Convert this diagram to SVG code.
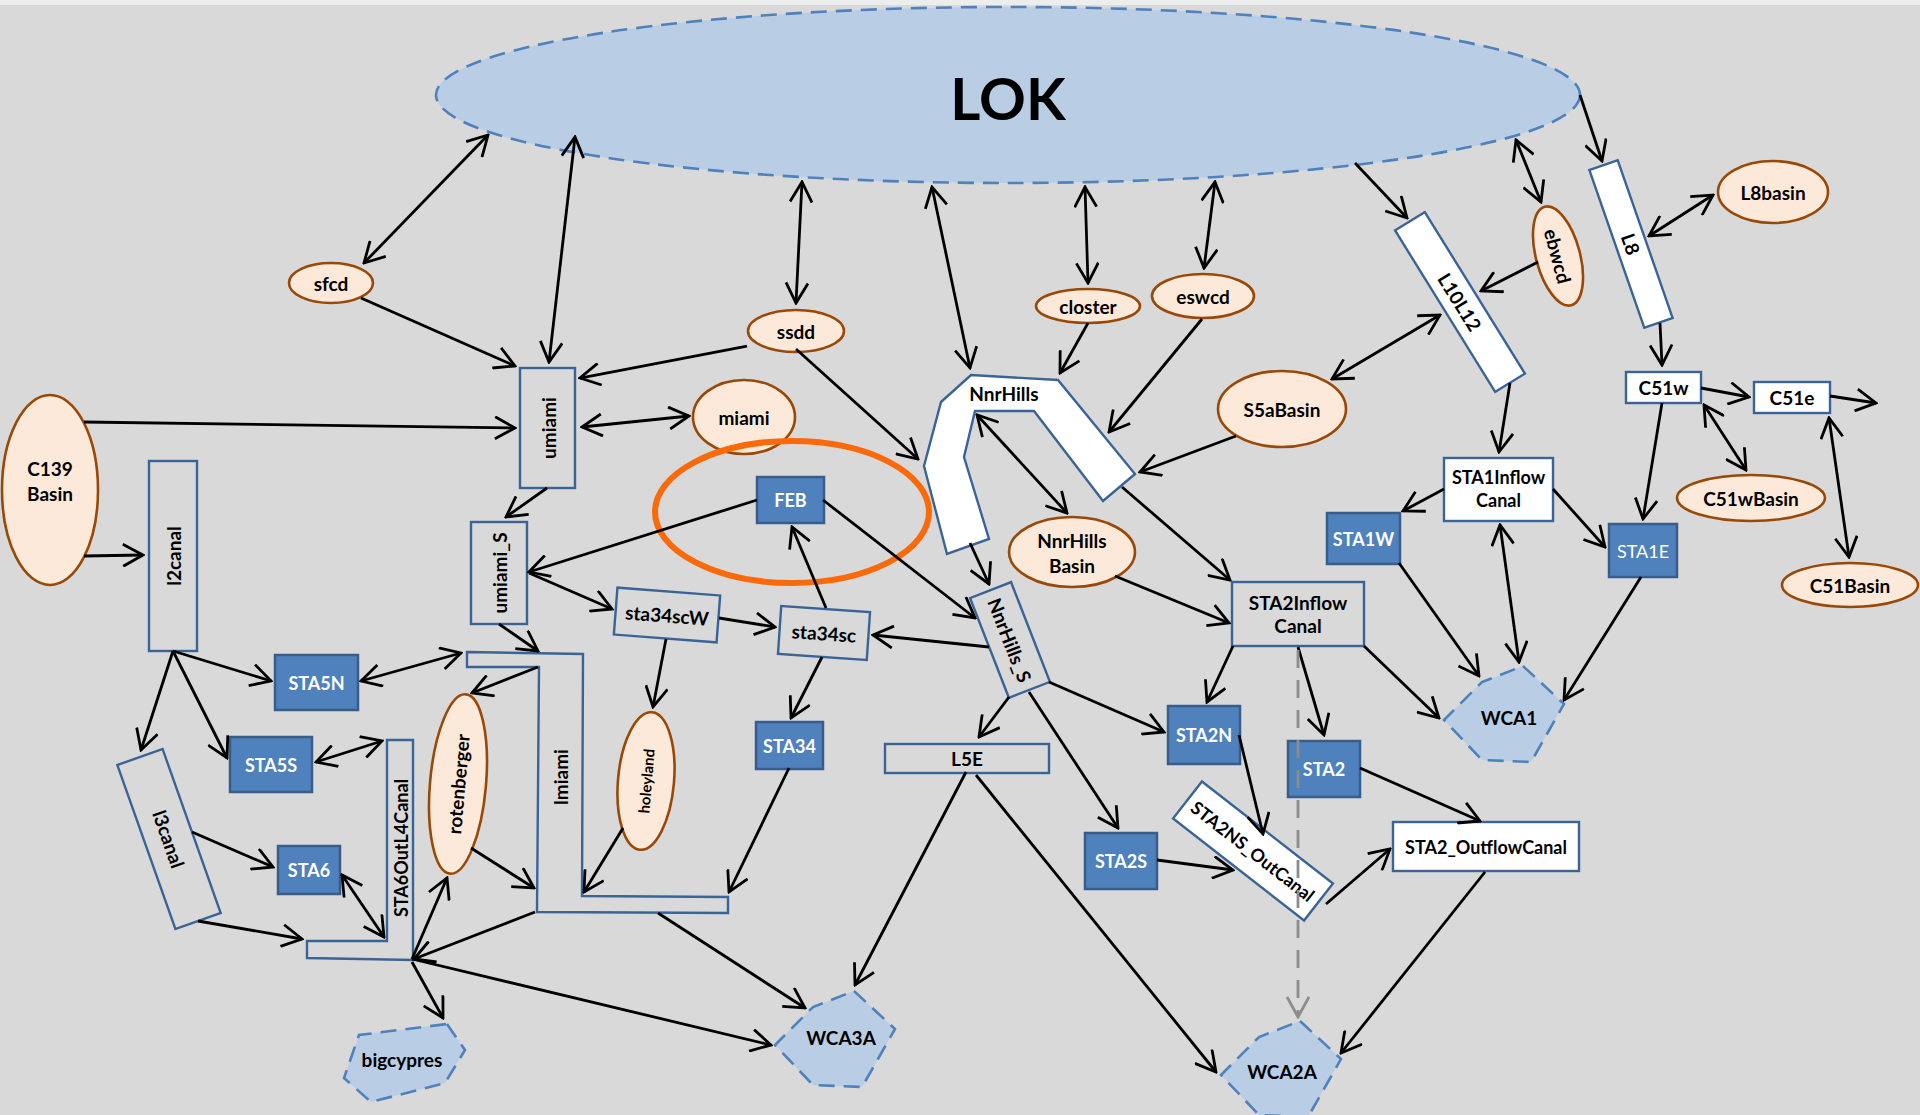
<svg xmlns="http://www.w3.org/2000/svg" width="1920" height="1115" viewBox="0 0 1920 1115">
<style>
.t{font-family:Lato,"Liberation Sans",sans-serif;font-weight:bold;font-size:19px;fill:#000;text-anchor:middle;dominant-baseline:central}
.w{fill:#fff;font-size:18px}
.oval{fill:#fde9d9;stroke:#984807;stroke-width:2.6}
.blue{fill:#4f81bd;stroke:#385d8a;stroke-width:2.5}
.canal{fill:#d9d9d9;stroke:#3a6496;stroke-width:2.4}
.white{fill:#fff;stroke:#3a6496;stroke-width:2.4}
.lake{fill:#b9cde5;stroke:#4f81bd;stroke-width:2.6;stroke-dasharray:16 9}
.c line{stroke:#000;stroke-width:2.8;marker-end:url(#a)}
.c line.d{marker-start:url(#a)}
.c line.g{stroke:#8c8c8c;stroke-dasharray:18 12;marker-end:url(#g)}
</style>
<defs>
<marker id="a" viewBox="0 0 24 24" refX="22" refY="12" markerWidth="24" markerHeight="24" markerUnits="userSpaceOnUse" orient="auto-start-reverse"><path d="M2,1 L22,12 L2,23" fill="none" stroke="#000" stroke-width="2.8"/></marker>
<marker id="g" viewBox="0 0 24 24" refX="22" refY="12" markerWidth="24" markerHeight="24" markerUnits="userSpaceOnUse" orient="auto-start-reverse"><path d="M2,1 L22,12 L2,23" fill="none" stroke="#8c8c8c" stroke-width="2.8"/></marker>
</defs>
<rect width="1920" height="1115" fill="#d9d9d9"/>
<rect width="1920" height="5" fill="#eceeed"/>

<g id="LOK"><ellipse class="lake" cx="1008" cy="95" rx="572" ry="88"/><text class="t" x="1008" y="97" style="font-size:58px">LOK</text></g>

<g id="sfcd"><ellipse class="oval" cx="331" cy="283" rx="42" ry="20"/><text class="t" x="331" y="283">sfcd</text></g>
<g id="ssdd"><ellipse class="oval" cx="796" cy="331" rx="48" ry="21"/><text class="t" x="796" y="331">ssdd</text></g>
<g id="closter"><ellipse class="oval" cx="1088" cy="306" rx="52" ry="17"/><text class="t" x="1088" y="306">closter</text></g>
<g id="eswcd"><ellipse class="oval" cx="1203" cy="296" rx="51" ry="22"/><text class="t" x="1203" y="296">eswcd</text></g>
<g id="miami"><ellipse class="oval" cx="744" cy="417" rx="51" ry="37"/><text class="t" x="744" y="417">miami</text></g>
<g id="C139Basin"><ellipse class="oval" cx="50" cy="490" rx="48" ry="95"/><text class="t" x="50" y="468">C139<tspan x="50" dy="25">Basin</tspan></text></g>
<g id="S5aBasin"><ellipse class="oval" cx="1282" cy="409" rx="64" ry="38"/><text class="t" x="1282" y="409">S5aBasin</text></g>
<g id="NnrHillsBasin"><ellipse class="oval" cx="1072" cy="552" rx="63" ry="35"/><text class="t" x="1072" y="540">NnrHills<tspan x="1072" dy="25">Basin</tspan></text></g>
<g id="L8basin"><ellipse class="oval" cx="1773" cy="192" rx="55" ry="31"/><text class="t" x="1773" y="192">L8basin</text></g>
<g id="ebwcd" transform="translate(1558,256) rotate(75)"><ellipse class="oval" cx="0" cy="0" rx="51" ry="22"/><text class="t" x="0" y="0">ebwcd</text></g>
<g id="C51wBasin"><ellipse class="oval" cx="1751" cy="498" rx="74" ry="23"/><text class="t" x="1751" y="498">C51wBasin</text></g>
<g id="C51Basin"><ellipse class="oval" cx="1850" cy="585" rx="68" ry="22"/><text class="t" x="1850" y="585">C51Basin</text></g>
<g id="rotenberger" transform="translate(458,784) rotate(5)"><ellipse class="oval" cx="0" cy="0" rx="28" ry="90"/><text class="t" x="0" y="0" transform="rotate(-90)">rotenberger</text></g>
<g id="holeyland" transform="translate(646,781) rotate(5)"><ellipse class="oval" cx="0" cy="0" rx="28" ry="69"/><text class="t" x="0" y="0" transform="rotate(-90)" style="font-size:15px">holeyland</text></g>

<g id="l2canal"><rect class="canal" x="149" y="461" width="48" height="190"/><text class="t" transform="translate(173,556) rotate(-90)">l2canal</text></g>
<g id="umiami"><rect class="canal" x="520" y="368" width="55" height="120"/><text class="t" transform="translate(548,428) rotate(-90)">umiami</text></g>
<g id="umiami_S"><rect class="canal" x="471" y="522" width="56" height="102"/><text class="t" transform="translate(499,573) rotate(-90)">umiami_S</text></g>
<g id="lmiami"><polygon class="canal" points="467,652 583,654 582,896 728,897 728,913 537,912 539,667 467,667"/><text class="t" transform="translate(560,777) rotate(-90)">lmiami</text></g>
<g id="STA6OutL4Canal"><polygon class="canal" points="387,740 413,740 413,960 307,958 307,941 387,941"/><text class="t" transform="translate(401,848) rotate(-90)" style="font-size:18px">STA6OutL4Canal</text></g>
<g id="l3canal" transform="translate(169,839) rotate(70.5)"><rect class="canal" x="-87" y="-24" width="174" height="48"/><text class="t" x="0" y="0">l3canal</text></g>
<g id="sta34scW" transform="translate(667,615) rotate(4.4)"><rect class="canal" x="-51.5" y="-23.5" width="103" height="47"/><text class="t" x="0" y="0">sta34scW</text></g>
<g id="sta34sc" transform="translate(824,633) rotate(3.9)"><rect class="canal" x="-44.5" y="-24" width="89" height="48"/><text class="t" x="0" y="0">sta34sc</text></g>
<g id="L5E"><rect class="canal" x="885" y="744" width="164" height="29"/><text class="t" x="967" y="758.5">L5E</text></g>
<g id="STA2InflowCanal"><rect class="canal" x="1232" y="582" width="132" height="64"/><text class="t" x="1298" y="602">STA2Inflow<tspan x="1298" dy="23">Canal</tspan></text></g>

<g id="NnrHills"><polygon class="white" points="971,375 1058,380 1135,474 1103,501 1034,411 975,411 964,457 989,539 947,554 924,466 941,402"/><text class="t" x="1004" y="393">NnrHills</text></g>
<g id="NnrHills_S" transform="translate(1010,640) rotate(68.7)"><rect class="canal" x="-53.5" y="-22" width="107" height="44"/><text class="t" x="0" y="0">NnrHills_S</text></g>
<g id="L10L12" transform="translate(1460,302) rotate(58.2)"><rect class="white" x="-95" y="-17.5" width="190" height="35"/><text class="t" x="0" y="0">L10L12</text></g>
<g id="L8" transform="translate(1631,244) rotate(70.8)"><rect class="white" x="-83.5" y="-15" width="167" height="30"/><text class="t" x="0" y="0">L8</text></g>
<g id="STA2NS_OutCanal" transform="translate(1253,851) rotate(37.9)"><rect class="white" x="-83" y="-23.5" width="166" height="47"/><text class="t" x="0" y="0" style="font-size:18px">STA2NS_OutCanal</text></g>
<g id="STA2_OutflowCanal"><rect class="white" x="1393" y="822" width="186" height="49"/><text class="t" x="1486" y="846.5" style="font-size:18px">STA2_OutflowCanal</text></g>
<g id="STA1InflowCanal"><rect class="white" x="1444" y="458" width="109" height="63"/><text class="t" x="1498.5" y="477" style="font-size:18px">STA1Inflow<tspan x="1498.5" dy="23">Canal</tspan></text></g>
<g id="C51w"><rect class="white" x="1626" y="372" width="75" height="31"/><text class="t" x="1663.5" y="387.5">C51w</text></g>
<g id="C51e"><rect class="white" x="1754" y="382" width="76" height="31"/><text class="t" x="1792" y="397.5">C51e</text></g>

<g id="STA5N"><rect class="blue" x="275" y="655" width="83" height="55"/><text class="t w" x="316.5" y="682.5">STA5N</text></g>
<g id="STA5S"><rect class="blue" x="230" y="737" width="82" height="55"/><text class="t w" x="271" y="764.5">STA5S</text></g>
<g id="STA6"><rect class="blue" x="278" y="846" width="62" height="48"/><text class="t w" x="309" y="870">STA6</text></g>
<g id="FEB"><rect class="blue" x="757" y="477" width="67" height="46"/><text class="t w" x="790.5" y="500">FEB</text></g>
<g id="STA34"><rect class="blue" x="756" y="722" width="67" height="47"/><text class="t w" x="789.5" y="745.5">STA34</text></g>
<g id="STA2N"><rect class="blue" x="1168" y="706" width="72" height="58"/><text class="t w" x="1204" y="735">STA2N</text></g>
<g id="STA2S"><rect class="blue" x="1085" y="833" width="72" height="56"/><text class="t w" x="1121" y="861">STA2S</text></g>
<g id="STA2"><rect class="blue" x="1288" y="741" width="72" height="56"/><text class="t w" x="1324" y="769">STA2</text></g>
<g id="STA1W"><rect class="blue" x="1327" y="513" width="73" height="51"/><text class="t w" x="1363.5" y="538.5">STA1W</text></g>
<g id="STA1E"><rect class="blue" x="1609" y="524" width="68" height="53"/><text class="t w" x="1643" y="550.5" style="font-weight:normal">STA1E</text></g>

<g id="WCA1"><polygon class="lake" points="1523,666 1564,704 1531,762 1482,760 1444,720 1482,682"/><text class="t" x="1509" y="717">WCA1</text></g>
<g id="WCA3A"><polygon class="lake" points="854,991 895,1029 862,1087 813,1085 775,1045 813,1007"/><text class="t" x="841" y="1037">WCA3A</text></g>
<g id="WCA2A"><polygon class="lake" points="1300,1021 1341,1059 1308,1117 1259,1115 1221,1075 1259,1037"/><text class="t" x="1282" y="1071">WCA2A</text></g>
<g id="bigcypres"><polygon class="lake" points="447,1024 465,1050 445,1083 371,1102 344,1078 359,1035"/><text class="t" x="402" y="1059">bigcypres</text></g>

<g id="FEBhighlight"><ellipse cx="792" cy="512" rx="137" ry="71" fill="none" stroke="#fa6a0a" stroke-width="6"/></g>

<g id="connectors" class="c">
<line class="d" x1="364" y1="263" x2="488" y2="135"/>
<line class="d" x1="549" y1="362" x2="575" y2="137"/>
<line x1="361" y1="298" x2="515" y2="366"/>
<line x1="747" y1="346" x2="580" y2="378"/>
<line class="d" x1="796" y1="303" x2="802" y2="182"/>
<line x1="796" y1="349" x2="918" y2="459"/>
<line class="d" x1="970" y1="368" x2="932" y2="187"/>
<line class="d" x1="1088" y1="283" x2="1085" y2="187"/>
<line class="d" x1="1204" y1="268" x2="1215" y2="182"/>
<line x1="1088" y1="323" x2="1060" y2="373"/>
<line x1="1202" y1="319" x2="1109" y2="432"/>
<line x1="1236" y1="436" x2="1140" y2="472"/>
<line class="d" x1="1332" y1="379" x2="1440" y2="315"/>
<line x1="1355" y1="163" x2="1407" y2="218"/>
<line class="d" x1="1541" y1="202" x2="1516" y2="140"/>
<line x1="1538" y1="262" x2="1481" y2="291"/>
<line x1="1580" y1="95" x2="1602" y2="161"/>
<line class="d" x1="1649" y1="236" x2="1713" y2="195"/>
<line x1="1660" y1="323" x2="1662" y2="365"/>
<line x1="1510" y1="383" x2="1499" y2="452"/>
<line x1="1701" y1="388" x2="1749" y2="397"/>
<line x1="1830" y1="396" x2="1876" y2="403"/>
<line class="d" x1="1704" y1="405" x2="1746" y2="470"/>
<line class="d" x1="1829" y1="418" x2="1849" y2="557"/>
<line x1="1662" y1="403" x2="1643" y2="519"/>
<line x1="1444" y1="489" x2="1403" y2="511"/>
<line x1="1553" y1="489" x2="1605" y2="547"/>
<line class="d" x1="1500" y1="525" x2="1519" y2="662"/>
<line x1="1399" y1="563" x2="1479" y2="676"/>
<line x1="1641" y1="577" x2="1564" y2="700"/>
<line x1="1364" y1="646" x2="1439" y2="718"/>
<line x1="1122" y1="487" x2="1230" y2="580"/>
<line x1="1115" y1="576" x2="1229" y2="623"/>
<line class="d" x1="977" y1="415" x2="1067" y2="513"/>
<line x1="970" y1="543" x2="989" y2="584"/>
<line x1="757" y1="500" x2="529" y2="572"/>
<line x1="823" y1="500" x2="975" y2="618"/>
<line x1="826" y1="608" x2="792" y2="527"/>
<line x1="989" y1="647" x2="873" y2="635"/>
<line x1="719" y1="618" x2="775" y2="627"/>
<line x1="529" y1="573" x2="612" y2="609"/>
<line x1="547" y1="488" x2="506" y2="517"/>
<line class="d" x1="582" y1="427" x2="689" y2="416"/>
<line x1="84" y1="422" x2="515" y2="428"/>
<line x1="84" y1="556" x2="143" y2="555"/>
<line x1="173" y1="651" x2="271" y2="681"/>
<line class="d" x1="361" y1="681" x2="461" y2="653"/>
<line x1="499" y1="624" x2="538" y2="651"/>
<line x1="538" y1="667" x2="472" y2="693"/>
<line x1="173" y1="651" x2="141" y2="750"/>
<line x1="173" y1="651" x2="227" y2="758"/>
<line class="d" x1="316" y1="762" x2="382" y2="741"/>
<line x1="192" y1="832" x2="273" y2="867"/>
<line x1="198" y1="921" x2="302" y2="939"/>
<line class="d" x1="342" y1="875" x2="384" y2="937"/>
<line x1="412" y1="959" x2="447" y2="878"/>
<line x1="535" y1="912" x2="414" y2="959"/>
<line x1="412" y1="962" x2="443" y2="1018"/>
<line x1="412" y1="959" x2="771" y2="1045"/>
<line x1="471" y1="848" x2="534" y2="888"/>
<line x1="623" y1="828" x2="584" y2="892"/>
<line x1="666" y1="639" x2="653" y2="707"/>
<line x1="789" y1="768" x2="729" y2="892"/>
<line x1="822" y1="657" x2="791" y2="718"/>
<line x1="658" y1="913" x2="805" y2="1008"/>
<line x1="966" y1="772" x2="855" y2="985"/>
<line x1="976" y1="775" x2="1216" y2="1072"/>
<line x1="1009" y1="697" x2="979" y2="737"/>
<line x1="1029" y1="692" x2="1118" y2="828"/>
<line x1="1049" y1="682" x2="1164" y2="732"/>
<line x1="1233" y1="646" x2="1207" y2="702"/>
<line x1="1298" y1="647" x2="1324" y2="735"/>
<line x1="1239" y1="735" x2="1263" y2="834"/>
<line x1="1157" y1="860" x2="1233" y2="870"/>
<line x1="1326" y1="904" x2="1390" y2="849"/>
<line x1="1360" y1="768" x2="1480" y2="821"/>
<line x1="1485" y1="872" x2="1341" y2="1053"/>
<line class="g" x1="1298" y1="650" x2="1298" y2="1017"/>
</g>
</svg>
